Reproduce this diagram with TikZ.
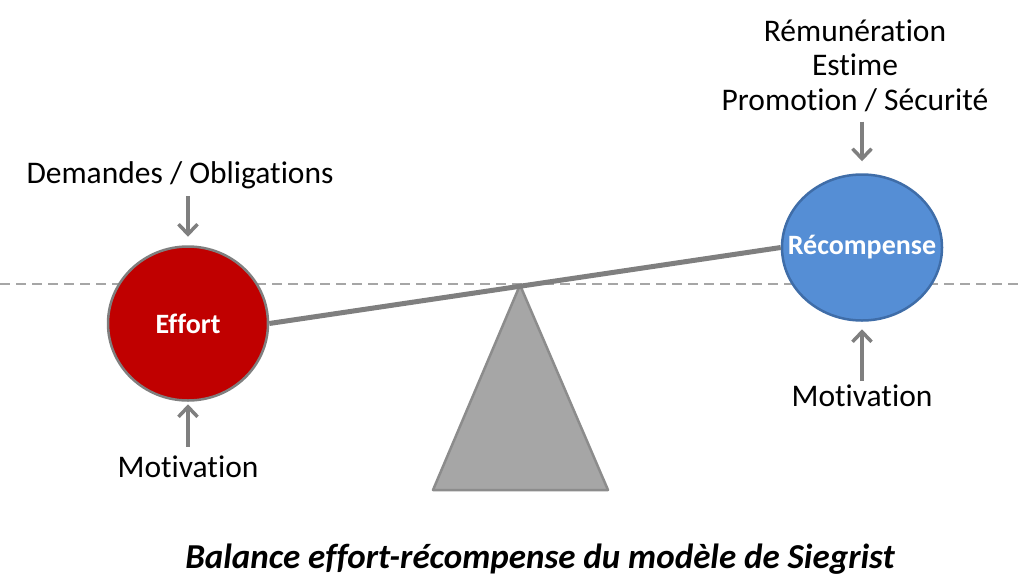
\documentclass[tikz,border=0pt]{standalone}
\usepackage{fontspec}
\setmainfont{Carlito}[Ligatures=NoCommon]
\usetikzlibrary{positioning, arrows.meta, shapes.geometric}

\definecolor{effortred}{HTML}{C00000}
\definecolor{rewardblue}{HTML}{558ED5}
\definecolor{rewardedge}{HTML}{3F6DA8}
\definecolor{beamgray}{HTML}{7F7F7F}
\definecolor{baseedge}{HTML}{8C8C8C}
\definecolor{basefill}{HTML}{A6A6A6}

\tikzset{
  label text/.style = {font=\fontsize{31.5}{34.5}\selectfont, inner sep=0pt,
                       text height=21pt, text depth=7pt},
  weight/.style     = {ellipse, draw=beamgray, line width=2.5pt, text=white,
                       inner sep=0pt, font=\bfseries\fontsize{28}{32}\selectfont},
  push/.style       = {draw=beamgray, line width=3.5pt,
                       -{Straight Barb[length=10pt, width=19pt, line width=3.5pt]}},
}

\begin{document}
\begin{tikzpicture}[x=1pt, y=-1pt, node distance = 150pt, on grid]
  \useasboundingbox (0,0) rectangle (1019,576);

  % level line
  \draw[basefill, line width=1.5pt, dash pattern=on 10pt off 6pt] (0,284) -- (1019,284);

  % fulcrum
  \coordinate (pivot) at (520,285);
  \draw[baseedge, fill=basefill, line width=2.5pt, line join=round]
    (pivot) -- (608,490) -- (433,490) -- cycle;

  \node[weight, fill=effortred, minimum width=160pt, minimum height=154pt] (effort) at (188,323.5)
    {\makebox[0pt]{Effort}};
  \node[weight, fill=rewardblue, draw=rewardedge, minimum width=160pt, minimum height=146pt] (reward) at (862,247.5)
    {\makebox[0pt]{Récompense}};

  % beam
  \draw[beamgray, line width=5pt] (effort.east) -- (reward.west);

  \node[label text] (demands) [above=147.4pt of effort, xshift=-8pt] {Demandes / Obligations};
  \node[label text] (motivL) [below=146.6pt of effort] {Motivation};
  \node[label text] (motivR) [below=151.6pt of reward] {Motivation};
  \node[font=\fontsize{31.5}{34.5}\selectfont, inner sep=0pt, align=center] (gains)
    [above=182pt of reward, xshift=-7pt] {Rémunération\\Estime\\Promotion / Sécurité};

  \draw[push, shorten <=6pt, shorten >=8.5pt] (effort |- demands.south) -- (effort.north);
  \draw[push, shorten <=9pt, shorten >=2.5pt] (motivL) -- (effort);
  \draw[push, shorten <=10pt, shorten >=12pt] (reward |- gains.south) -- (reward.north);
  \draw[push, shorten <=4pt, shorten >=7.5pt] (motivR) -- (reward);

  \node[font=\bfseries\itshape\fontsize{35}{40}\selectfont, inner sep=0pt] (caption) at (540,559)
    {Balance effort-récompense du modèle de Siegrist};
\end{tikzpicture}
\end{document}
